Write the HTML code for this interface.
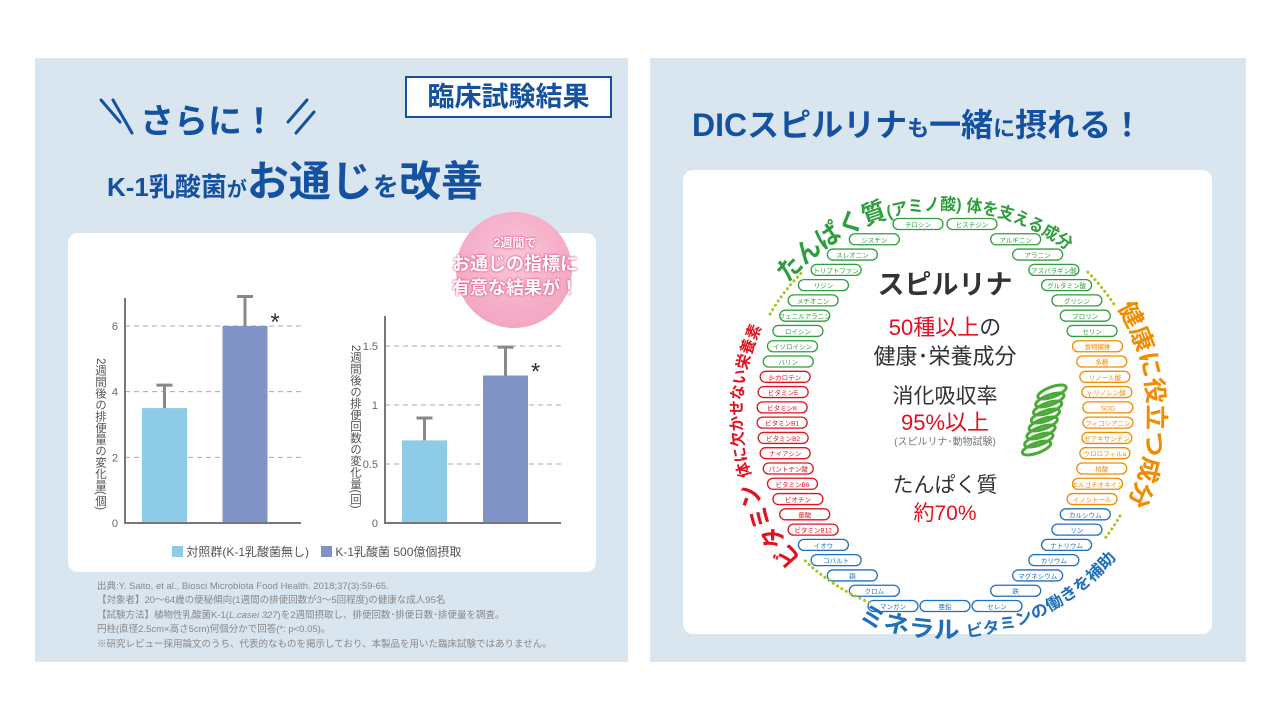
<!DOCTYPE html>
<html><head><meta charset="utf-8">
<style>
*{margin:0;padding:0;box-sizing:border-box}
body{width:1280px;height:720px;background:#fff;position:relative;overflow:hidden;font-family:"Liberation Sans","Noto Sans CJK JP",sans-serif}
.panel{position:absolute;background:#d9e5ef}
.card{position:absolute;background:#fff;border-radius:10px}
.abs{position:absolute;white-space:nowrap}
</style></head><body>
<div class="panel" style="left:35px;top:58px;width:593px;height:604px"></div>
<div class="panel" style="left:650px;top:58px;width:596px;height:604px"></div>

<div class="abs" style="left:405px;top:76px;width:207px;height:42px;border:2px solid #1451a0;background:#fff;color:#1451a0;font-size:27px;line-height:38px;text-align:center;font-weight:bold">臨床試験結果</div>
<svg class="abs" style="left:0;top:0" width="640" height="230">
<g stroke="#1451a0" stroke-width="3" stroke-linecap="round">
<line x1="101" y1="100" x2="120" y2="122"/><line x1="113" y1="100" x2="132" y2="133"/>
<line x1="288" y1="122" x2="307" y2="100"/><line x1="296" y1="133" x2="314" y2="112"/></g></svg>
<div class="abs" style="left:140px;top:94px;font-size:34px;font-weight:bold;color:#1451a0">さらに！</div>
<div class="abs" style="left:107px;top:148px;color:#1451a0;font-weight:bold"><span style="font-size:26px">K-1乳酸菌</span><span style="font-size:20px">が</span><span style="font-size:42px">お通じ</span><span style="font-size:26px">を</span><span style="font-size:42px">改善</span></div>

<div class="card" style="left:68px;top:233px;width:528px;height:339px"></div>
<div class="abs" style="left:456px;top:212px;width:116px;height:116px;border-radius:50%;background:radial-gradient(circle at 50% 40%,#f9c6d8,#f19bbb)"></div>
<div class="abs" style="left:445px;top:234px;width:140px;text-align:center;color:#fff;font-weight:bold;line-height:24px;text-shadow:0 0 2px #e8578c,0 0 2px #e8578c">
<div style="font-size:12px;line-height:18px">2週間で</div><div style="font-size:18px">お通じの指標に</div><div style="font-size:18px">有意な結果が！</div></div>

<svg class="abs" style="left:0;top:0" width="640" height="580" id="bars"></svg>

<div class="abs" style="left:172px;top:543px;font-size:12px;color:#555">
<span style="display:inline-block;width:11px;height:11px;background:#8dcbe6;vertical-align:-1px"></span> 対照群(K-1乳酸菌無し)　<span style="display:inline-block;width:11px;height:11px;background:#7f93c4;vertical-align:-1px"></span> K-1乳酸菌 500億個摂取</div>

<div class="abs" style="left:97px;top:580px;font-size:9.5px;line-height:14.4px;color:#888">
出典:Y. Saito, et al., Biosci Microbiota Food Health. 2018;37(3):59-65.<br>【対象者】20〜64歳の便秘傾向(1週間の排便回数が3〜5回程度)の健康な成人95名<br>【試験方法】植物性乳酸菌K-1(<i>L.casei 327</i>)を2週間摂取し、排便回数･排便日数･排便量を調査。<br>円柱(直径2.5cm×高さ5cm)何個分かで回答(*: p&lt;0.05)。<br>※研究レビュー採用論文のうち、代表的なものを掲示しており、本製品を用いた臨床試験ではありません。</div>

<div class="abs" style="left:692px;top:100px;color:#1451a0;font-weight:bold;font-size:32px"><span>DICスピルリナ</span><span style="font-size:22px">も</span><span>一緒</span><span style="font-size:22px">に</span><span>摂れる！</span></div>
<div class="card" style="left:683px;top:170px;width:529px;height:464px"></div>

<svg class="abs" style="left:0;top:0" width="1280" height="720" id="ring">
<defs>
<path id="pGreen"/><path id="pOrange"/><path id="pBlue"/><path id="pRed"/>
</defs>
</svg>

<div class="abs" style="left:845px;top:268px;width:200px;text-align:center;color:#333">
<div style="font-size:27px;font-weight:bold;line-height:34px">スピルリナ</div>
<div style="margin-top:12px;font-size:22px;line-height:28px"><span style="color:#e0121e">50種以上</span>の</div>
<div style="font-size:22px;line-height:30px">健康･栄養成分</div>
<div style="margin-top:12px;font-size:21px;line-height:26px">消化吸収率</div>
<div style="font-size:22px;line-height:26px;color:#e0121e">95%以上</div>
<div style="font-size:10px;color:#777;line-height:14px">(スピルリナ･動物試験)</div>
<div style="margin-top:22px;font-size:21px;line-height:28px">たんぱく質</div>
<div style="font-size:21px;line-height:28px;color:#e0121e">約70%</div>
</div>

<script>
// ---- bar chart data ----
const categories = ["対照群","K-1乳酸菌"];
const amountValues = [3.5, 6.0];
const amountErrors = [0.7, 0.9];
const amountTicks = [0, 2, 4, 6];
const countValues = [0.7, 1.25];
const countErrors = [0.19, 0.24];
const countTicks = [0, 0.5, 1, 1.5];
const barColors = ["#8dcbe6","#7f93c4"];
const NS="http://www.w3.org/2000/svg";
function mk(p,tag,a){const e=document.createElementNS(NS,tag);for(const k in a)e.setAttribute(k,a[k]);p.appendChild(e);return e;}
const bsvg=document.getElementById('bars');
function chart(cfg){
  const y=v=>cfg.base-(v/cfg.max)*(cfg.base-cfg.top);
  cfg.ticks.forEach(t=>{
    if(t>0){const l=mk(bsvg,'line',{x1:cfg.x0,x2:cfg.x1,y1:y(t),y2:y(t),stroke:'#aaa','stroke-dasharray':'5,4','stroke-width':1});
    }
    const tx=mk(bsvg,'text',{x:cfg.x0-7,y:y(t)+4,'text-anchor':'end','font-size':11,fill:'#666'});tx.textContent=t;
    
  });
  cfg.vals.forEach((v,i)=>{
    const cx=cfg.bx[i];
    const r=mk(bsvg,'rect',{x:cx-22.5,y:y(v),width:45,height:cfg.base-y(v),fill:barColors[i]});
    
    const et=y(v+cfg.errs[i]);
    const e=mk(bsvg,'path',{d:`M${cx} ${y(v)}V${et}M${cx-8} ${et}H${cx+8}`,stroke:'#888','stroke-width':3,fill:'none'});
    
    if(i==1){const s=mk(bsvg,'text',{x:cx+30,y:y(v)+4,'text-anchor':'middle','font-size':24,fill:'#333'});s.textContent='*';
    }
  });
  const ax=mk(bsvg,'path',{d:`M${cfg.x0} ${cfg.axTop}V${cfg.base}H${cfg.x1}`,stroke:'#777','stroke-width':2,fill:'none'});
  
  const lab=mk(bsvg,'text',{x:cfg.labX,y:cfg.labY,'font-size':11.5,fill:'#555','writing-mode':'tb'});
  lab.textContent=cfg.label;
}
chart({x0:125,x1:301,base:523,top:326,max:6,axTop:298,ticks:amountTicks,vals:amountValues,errs:amountErrors,bx:[164.5,245],label:'2週間後の排便量の変化量(個)',labX:100,labY:358});
chart({x0:385,x1:561,base:523,top:346,max:1.5,axTop:316,ticks:countTicks,vals:countValues,errs:countErrors,bx:[424.5,505.5],label:'2週間後の排便回数の変化量(回)',labX:355,labY:345});

// ---- ring ----
const leftPills=["チロシン","シスチン","スレオニン","トリプトファン","リジン","メチオニン","フェニルアラニン","ロイシン","イソロイシン","バリン","β-カロテン","ビタミンE","ビタミンK","ビタミンB1","ビタミンB2","ナイアシン","パントテン酸","ビタミンB6","ビオチン","葉酸","ビタミンB12","イオウ","コバルト","銅","クロム","マンガン"];
const rightPills=["ヒスチジン","アルギニン","アラニン","アスパラギン酸","グルタミン酸","グリシン","プロリン","セリン","食物繊維","多糖","リノール酸","γ-リノレン酸","SOD","フィコシアニン","ゼアキサンチン","クロロフィルa","核酸","エルゴチオネイン","イノシトール","カルシウム","リン","ナトリウム","カリウム","マグネシウム","鉄","セレン"];
const leftColor=i=>i<10?'#2e9e3e':i<21?'#e0121e':'#1f6fbf';
const rightColor=i=>i<8?'#2e9e3e':i<19?'#f08c00':'#1f6fbf';
const ring=document.getElementById('ring');
const CX=945,CY=415,RX=163,RY=195;
function pill(x,y,txt,col){
  const g=mk(ring,'g',{});
  
  mk(g,'rect',{x:x-25,y:y-5.5,width:50,height:11,rx:5.5,fill:'#fff',stroke:col,'stroke-width':1.3});
  const t=mk(g,'text',{x:x,y:y+3,'text-anchor':'middle','font-size':6.5,fill:col});t.textContent=txt;
}
for(let i=0;i<26;i++){
  const y=224+i*15.28, dy=y-CY;
  let dx=RX*Math.sqrt(Math.max(0,1-(dy/RY)*(dy/RY)));
  if(i==0)dx=27; if(i==25)dx=52;
  pill(CX-dx,y,leftPills[i],leftColor(i));
  pill(CX+dx,y,rightPills[i],rightColor(i));
}
pill(CX,224+25*15.28,"亜鉛",'#1f6fbf');

function arcD(r,a0,a1,sweep){const p=a=>[CX+r*Math.cos(a*Math.PI/180),CY+r*Math.sin(a*Math.PI/180)];
 const s=p(a0),e=p(a1);const large=Math.abs(a1-a0)>180?1:0;return `M${s[0]} ${s[1]}A${r} ${r} 0 ${large} ${sweep} ${e[0]} ${e[1]}`;}
document.getElementById('pGreen').setAttribute('d',arcD(205,-140,-45,1));
document.getElementById('pOrange').setAttribute('d',arcD(203,-32,30,1));
document.getElementById('pBlue').setAttribute('d',arcD(223,113,35,0));
document.getElementById('pRed').setAttribute('d',arcD(203,135,210,1));
[[-45,-32],[30,38],[112,135],[210,225]].forEach(a=>{
 const d=mk(ring,'path',{d:arcD(202,a[0],a[1],1),stroke:'#a6c421','stroke-width':3,'stroke-dasharray':'0.1,5','stroke-linecap':'round',fill:'none'});
 
});
function arcText(id,col,parts,len,name){
 const t=mk(ring,'text',{fill:col,'font-weight':'bold'});
 
 const tp=mk(t,'textPath',{href:'#'+id,textLength:len,lengthAdjust:'spacingAndGlyphs'});
 parts.forEach(p=>{const s=mk(tp,'tspan',{'font-size':p[1]});s.textContent=p[0];});
}
arcText('pGreen','#2e9e3e',[["たんぱく質",26],["(アミノ酸) 体を支える成分",17]],310,'protein-arc-label');
arcText('pOrange','#f08c00',[["健康に役立つ成分",24]],205,'health-arc-label');
arcText('pBlue','#1f6fbf',[["ミネラル ",24],["ビタミンの働きを補助",16]],285,'mineral-arc-label');
arcText('pRed','#e0121e',[["ビタミン ",24],["体に欠かせない栄養素",16]],250,'vitamin-arc-label');

// spirulina spiral icon
const sp=mk(ring,'g',{});

for(let k=0;k<8;k++){
 mk(sp,'ellipse',{cx:1052-k*2.2,cy:392+k*8,rx:15,ry:5,transform:`rotate(-20 ${1052-k*2.2} ${392+k*8})`,fill:'none',stroke:'#4caa3a','stroke-width':3});
}
</script>
</body></html>
